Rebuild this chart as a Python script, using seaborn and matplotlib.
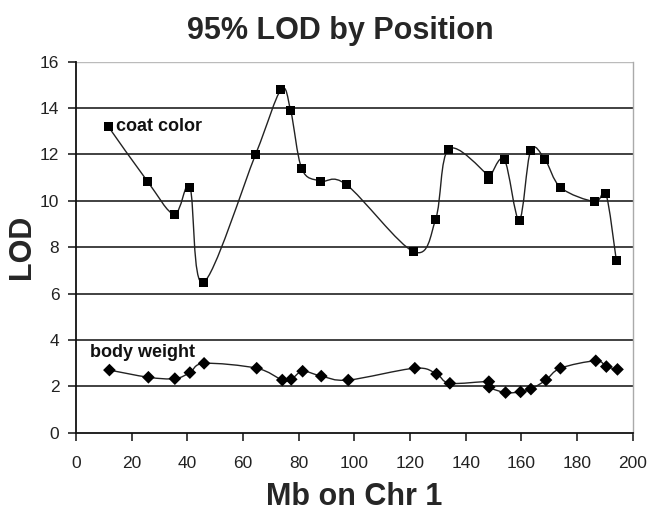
import matplotlib
matplotlib.use("Agg")
import matplotlib.pyplot as plt
import seaborn as sns
import numpy as np
import pandas as pd
from matplotlib.path import Path
from matplotlib.patches import PathPatch

# values
coat_mb = [11.6, 25.6, 35.3, 40.9, 45.7, 64.5, 73.6, 77.1, 81.1, 87.7, 97.2,
           121.4, 129.2, 133.9, 148.0, 148.2, 153.8, 159.2, 163.3, 168.4, 174.1,
           186.4, 190.3, 194.1]
coat_lod = [13.2, 10.85, 9.42, 10.58, 6.47, 12.0, 14.78, 13.89, 11.38, 10.85, 10.69,
            7.8, 9.21, 12.23, 11.1, 10.9, 11.79, 9.17, 12.16, 11.79, 10.57,
            9.96, 10.32, 7.42]

body_mb = [12.0, 26.0, 35.5, 40.9, 46.0, 64.9, 74.1, 77.3, 81.4, 88.1, 97.8,
           121.7, 129.5, 134.3, 148.3, 148.4, 154.3, 159.7, 163.4, 168.8, 174.0,
           186.7, 190.5, 194.5]
body_lod = [2.70, 2.39, 2.33, 2.59, 2.99, 2.78, 2.27, 2.30, 2.65, 2.44, 2.27,
            2.78, 2.53, 2.13, 2.20, 1.96, 1.73, 1.76, 1.88, 2.27, 2.78,
            3.10, 2.85, 2.73]

x_ticks = list(range(0, 201, 20))
y_ticks = list(range(0, 17, 2))


def smooth_path(xs, ys):
    # Excel style smoothed line: bezier with control points at 1/6 of neighbour span
    pts = np.column_stack([xs, ys])
    verts = [pts[0]]
    codes = [Path.MOVETO]
    n = len(pts)
    for i in range(n - 1):
        p0 = pts[i - 1] if i > 0 else pts[i]
        p1 = pts[i]
        p2 = pts[i + 1]
        p3 = pts[i + 2] if i + 2 < n else pts[i + 1]
        c1 = p1 + (p2 - p0) / 6.0
        c2 = p2 - (p3 - p1) / 6.0
        verts += [c1, c2, p2]
        codes += [Path.CURVE4] * 3
    return Path(verts, codes)


sns.set_style("white")
plt.rcParams["font.family"] = ["Liberation Sans", "DejaVu Sans"]

fig = plt.figure(figsize=(6.64, 5.18), dpi=100)
ax = fig.add_axes([0.1145, 0.1647, 0.8385, 0.7163])

df = pd.DataFrame({
    "Mb": coat_mb + body_mb,
    "LOD": coat_lod + body_lod,
    "trait": ["coat color"] * len(coat_mb) + ["body weight"] * len(body_mb),
})

for xs, ys in [(coat_mb, coat_lod), (body_mb, body_lod)]:
    ax.add_patch(PathPatch(smooth_path(xs, ys), facecolor="none",
                           edgecolor="#222222", lw=1.0, zorder=3))

sns.scatterplot(data=df, x="Mb", y="LOD", style="trait",
                markers={"coat color": "s", "body weight": "D"},
                color="black", s=42, edgecolor="black", linewidth=0,
                legend=False, zorder=4, ax=ax)

ax.set_xlim(0, 200)
ax.set_ylim(0, 16)
ax.set_xticks(x_ticks)
ax.set_yticks(y_ticks)
ax.tick_params(axis="both", labelsize=12.5, length=6, width=1.2,
               direction="out", color="#222222", pad=6, labelcolor="#222222")
ax.tick_params(axis="x", bottom=True, pad=11)
ax.tick_params(axis="y", left=True)

for y in y_ticks[1:-1]:
    ax.axhline(y, color="#333333", lw=1.3, zorder=1)
ax.axhline(16, color="#bbbbbb", lw=1.0, zorder=1)

ax.spines["left"].set_color("#111111")
ax.spines["left"].set_linewidth(1.3)
ax.spines["bottom"].set_color("#111111")
ax.spines["bottom"].set_linewidth(1.3)
ax.spines["right"].set_color("#aaaaaa")
ax.spines["right"].set_linewidth(1.0)
ax.spines["top"].set_visible(False)

ax.text(14.5, 13.2, "coat color", fontsize=13, fontweight="bold",
        va="center", ha="left", color="#111111")
ax.text(5.0, 3.45, "body weight", fontsize=13, fontweight="bold",
        va="center", ha="left", color="#111111")

ax.set_xlabel("Mb on Chr 1", fontsize=22, fontweight="bold", labelpad=8)
ax.set_ylabel("LOD", fontsize=22, fontweight="bold", labelpad=2)
ax.set_title("95% LOD by Position", fontsize=22, fontweight="bold", pad=16,
             x=0.474)

fig.savefig("out.png", dpi=100, facecolor="white")
